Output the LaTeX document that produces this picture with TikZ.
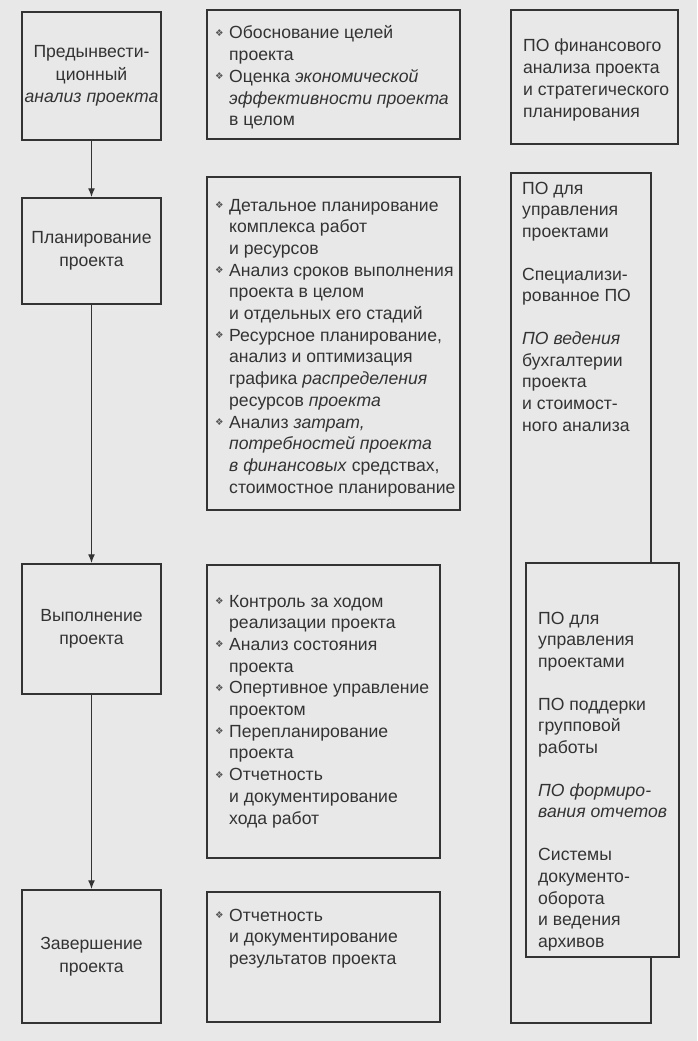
\documentclass[tikz,border=0pt]{standalone}
\usepackage{fontspec}
\setmainfont{Liberation Sans}
\newfontfamily\symfont{DejaVu Sans}
\usetikzlibrary{arrows.meta}
\definecolor{bg}{HTML}{E8E8E8}
\definecolor{ink}{HTML}{333333}
\definecolor{bulc}{HTML}{555555}
\newcommand\bul{{\symfont\fontsize{9.5}{9.5}\selectfont\color{bulc}\raisebox{2.5pt}{❖}}}
\newcommand\bitem[1]{\par\noindent\llap{\makebox[17pt][l]{\hspace{3pt}\bul}}#1\par}
\newcommand\bullist[2]{\parbox[t]{#1}{\raggedright\leftskip=17pt\relax #2}}
\tikzset{
  box/.style={draw=ink, line width=1.5pt, inner sep=0pt},
  stage/.style={box, minimum width=139pt, align=center, text=ink,
     font=\fontsize{17.6}{22.5}\selectfont},
  txt/.style={anchor=base west, inner sep=0pt, text=ink,
     font=\fontsize{17.6}{21.7}\selectfont},
  arr/.style={draw=ink, line width=1.4pt, -{Latex[length=9pt,width=7pt]}},
}
\begin{document}
\begin{tikzpicture}[x=1pt,y=-1pt]
\useasboundingbox[fill=bg] (0,0) rectangle (697,1041);

% stage boxes (left column)
\node[stage, minimum height=128pt] (A) at (91.5,76)
  {Предынвести-\\ционный\\\textit{анализ проекта}};
\node[stage, minimum height=106pt] (D) at (91.5,251)
  {Планирование\\проекта};
\node[stage, minimum height=130pt] (G) at (91.5,629)
  {Выполнение\\проекта};
\node[stage, minimum height=133pt] (J) at (91.5,956.5)
  {Завершение\\проекта};

% task boxes (middle column)
\node[box, minimum width=253pt, minimum height=129pt] (B) at (333.5,74.5) {};
\node[box, minimum width=253pt, minimum height=333pt] (E) at (333.5,343.5) {};
\node[box, minimum width=233pt, minimum height=293pt] (H) at (323.5,711.5) {};
\node[box, minimum width=233pt, minimum height=130pt] (K) at (323.5,957) {};

% software boxes (right column)
\node[box, minimum width=167pt, minimum height=134pt] (C) at (594.5,77) {};
\node[box, minimum width=140pt, minimum height=850pt] (F) at (581,598) {};
\node[box, fill=bg, minimum width=153pt, minimum height=394pt] (I) at (602.5,760) {};

% texts of middle boxes
\node[txt] (tB) at (212,39) {\bullist{245pt}{%
  \bitem{Обоснование целей\\проекта}
  \bitem{Оценка \textit{экономической}\\\textit{эффективности проекта}\\в целом}}};
\node[txt] (tE) at (212,211) {\bullist{245pt}{%
  \bitem{Детальное планирование\\комплекса работ\\и ресурсов}
  \bitem{Анализ сроков выполнения\\проекта в целом\\и отдельных его стадий}
  \bitem{Ресурсное планирование,\\анализ и оптимизация\\графика \textit{распределения}\\ресурсов \textit{проекта}}
  \bitem{Анализ \textit{затрат,}\\\textit{потребностей проекта}\\\textit{в финансовых} средствах,\\стоимостное планирование}}};
\node[txt] (tH) at (212,607) {\bullist{225pt}{%
  \bitem{Контроль за ходом\\реализации проекта}
  \bitem{Анализ состояния\\проекта}
  \bitem{Опертивное управление\\проектом}
  \bitem{Перепланирование\\проекта}
  \bitem{Отчетность\\и документирование\\хода работ}}};
\node[txt] (tK) at (212,921) {\bullist{225pt}{%
  \bitem{Отчетность\\и документирование\\результатов проекта}}};

% texts of right boxes
\node[txt] (tC) at (523,52) {\parbox[t]{160pt}{\raggedright
  ПО финансового\\анализа проекта\\и стратегического\\планирования}};
\node[txt] (tF) at (522,194) {\parbox[t]{130pt}{\raggedright
  ПО для\\управления\\проектами\\[21pt]
  Специализи-\\рованное ПО\\[21pt]
  \textit{ПО ведения}\\бухгалтерии\\проекта\\и стоимост-\\ного анализа}};
\node[txt] (tI) at (538,624) {\parbox[t]{140pt}{\raggedright
  ПО для\\управления\\проектами\\[21pt]
  ПО поддерки\\групповой\\работы\\[21pt]
  \textit{ПО формиро-}\\\textit{вания отчетов}\\[21pt]
  Системы\\документо-\\оборота\\и ведения\\архивов}};

% connectors
\draw[arr] (A.south) -- (D.north);
\draw[arr] (D.south) -- (G.north);
\draw[arr] (G.south) -- (J.north);
\end{tikzpicture}
\end{document}
